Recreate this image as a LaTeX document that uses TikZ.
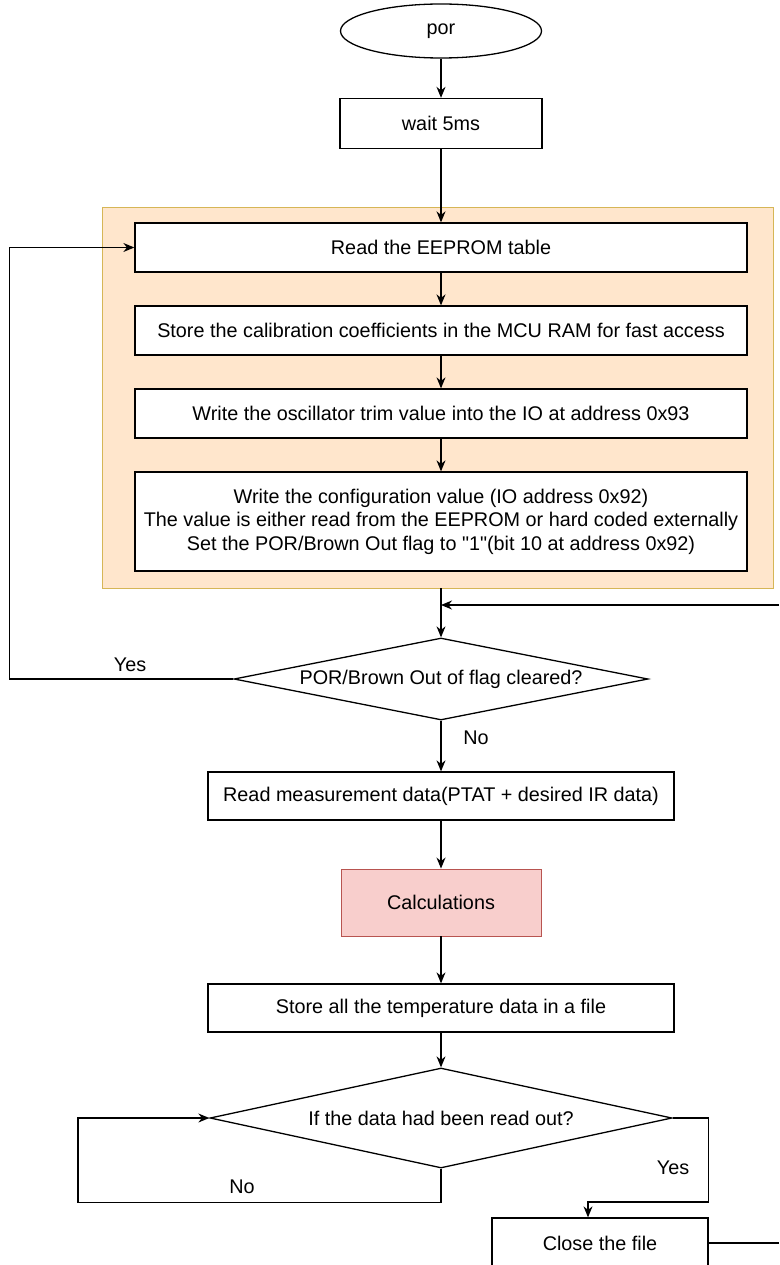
\documentclass[tikz,border=0pt]{standalone}
\usepackage{fontspec}
\setmainfont{Liberation Sans}
\usetikzlibrary{positioning,shapes.geometric,arrows.meta}
\definecolor{GroupFill}{HTML}{FFE6CC}
\definecolor{GroupLine}{HTML}{D6B656}
\definecolor{CalcFill}{HTML}{F8CECC}
\definecolor{CalcLine}{HTML}{B85450}

\begin{document}
\begin{tikzpicture}[x=1pt,y=-1pt,
    font=\fontsize{19.8}{23.5}\selectfont,
    line width=1.3pt,
    >={Stealth[length=11pt,width=9pt]},
    procbox/.style={draw, rectangle, inner sep=0pt, align=center, minimum height=49pt},
    decbox/.style={draw, diamond, inner sep=0pt, aspect=5},
    label/.style={inner sep=0pt}]
        \useasboundingbox (0,0) rectangle (779,1265);

        % Start and wait
        \node[draw, ellipse, minimum width=201pt, minimum height=54pt] (por) at (441,31) {por};
        \node[procbox, minimum width=202pt, minimum height=50pt] (wait) at (441,123.5) {wait 5ms};

        % Init group
        \draw[fill=GroupFill, draw=GroupLine, line width=0.8pt] (102,207) rectangle (773,588);
        \node[procbox, fill=white, minimum width=612pt] (eeprom) at (441,247.5) {Read the EEPROM table};
        \node[procbox, fill=white, minimum width=612pt] (calib) at (441,330.5) {Store the calibration coefficients in the MCU RAM for fast access};
        \node[procbox, fill=white, minimum width=612pt] (trim) at (441,413.5) {Write the oscillator trim value into the IO at address 0x93};
        \node[procbox, fill=white, minimum width=612pt, minimum height=99pt] (config) at (441,521.5)
            {Write the configuration value (IO address 0x92)\\
             The value is either read from the EEPROM or hard coded externally\\
             Set the POR/Brown Out flag to \textquotedbl1\textquotedbl(bit 10 at address 0x92)};
        \coordinate (groupbot) at (441,588);

        % Flag check
        \node[decbox, minimum width=414pt, minimum height=82pt] (flagdec) at (441,679) {POR/Brown Out of flag cleared?};
        \node[procbox, minimum width=466pt, minimum height=48pt] (measure) at (441,796) {Read measurement data(PTAT + desired IR data)};
        \node[procbox, fill=CalcFill, draw=CalcLine, line width=0.9pt, minimum width=200pt, minimum height=67pt] (calc) at (441,902.5) {Calculations};
        \node[procbox, minimum width=466pt, minimum height=48pt] (storeall) at (441,1008) {Store all the temperature data in a file};
        \node[decbox, minimum width=462pt, minimum height=100pt] (readdec) at (441,1118) {If the data had been read out?};
        \node[procbox, minimum width=216pt, minimum height=50pt] (closefile) at (600,1243) {Close the file};

        % Free ends at the right edge
        \coordinate (backin) at (779,605);
        \coordinate (closeout) at (779,1243);

        % Arrows
        \draw[->] (por) -- (wait);
        \draw[->] (wait) -- (eeprom);
        \draw[->] (eeprom) -- (calib);
        \draw[->] (calib) -- (trim);
        \draw[->] (trim) -- (config);
        \draw[->] (groupbot) -- (flagdec.north);
        \draw[->] (backin) -- (backin -| flagdec.north);
        \draw[->] (flagdec.west) -- ++(-224,0) |- (eeprom.west);
        \node[label] at (130,665) {Yes};
        \draw[->] (flagdec.south) -- (measure.north);
        \node[label] at (476,738) {No};
        \draw[->] (measure) -- (calc);
        \draw[->] (calc) -- (storeall);
        \draw[->] (storeall) -- (readdec.north);
        \draw[->] (readdec.south) |- ++(-363,34) |- (readdec.west);
        \node[label] at (242,1187) {No};
        \draw[->] (readdec.east) -| ++(36,84) -| ([xshift=-12pt]closefile.north);
        \node[label] at (673,1168) {Yes};
        \draw (closefile.east) -- (closeout);
      \end{tikzpicture}
\end{document}
